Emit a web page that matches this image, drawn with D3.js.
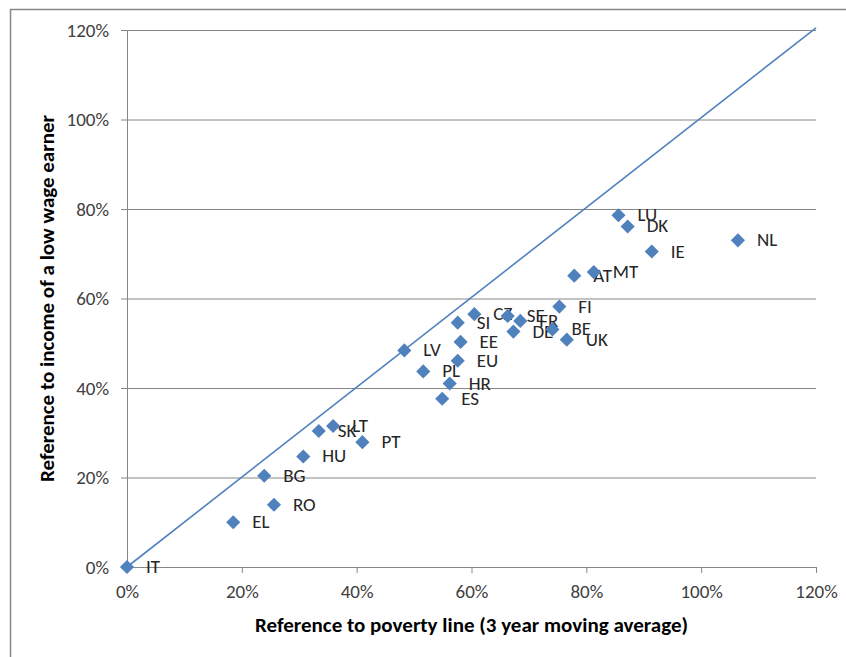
<!DOCTYPE html>
<html>
<head>
<meta charset="utf-8">
<script src="https://cdn.jsdelivr.net/npm/d3@7"></script>
<style>
  body { margin: 0; background: #fff; }
  text { font-family: Calibri, Carlito, 'Liberation Sans', Arial, sans-serif; }
  .axis path, .axis line { stroke: #868686; }
  .axis text { fill: #404040; font-size: 19px; }
  .grid line { stroke: #868686; }
  .grid path { display: none; }
</style>
</head>
<body>
<div id="chart-area"></div>
<script>
// country codes and values (share, 1 = 100%)
const codes = ['IT', 'EL', 'RO', 'BG', 'HU', 'SK', 'LT', 'PT', 'LV', 'PL', 'HR', 'ES', 'EU', 'EE', 'SI', 'CZ', 'SE', 'FR', 'DE', 'BE', 'UK', 'FI', 'AT', 'MT', 'LU', 'DK', 'IE', 'NL'];
const povertyLine = [0.0, 0.185, 0.256, 0.239, 0.307, 0.334, 0.359, 0.41, 0.483, 0.516, 0.562, 0.549, 0.576, 0.581, 0.576, 0.605, 0.663, 0.685, 0.673, 0.741, 0.766, 0.753, 0.779, 0.813, 0.856, 0.872, 0.914, 1.064];
const lowWage = [0.0, 0.1, 0.139, 0.204, 0.247, 0.304, 0.315, 0.279, 0.484, 0.437, 0.41, 0.376, 0.461, 0.503, 0.546, 0.565, 0.561, 0.55, 0.526, 0.531, 0.508, 0.582, 0.651, 0.659, 0.786, 0.761, 0.705, 0.73];
const equalityLine = [[0, 0], [1.2, 1.205]];
const tickValues = [0, 0.2, 0.4, 0.6, 0.8, 1.0, 1.2];

const margin = { left: 127, right: 30, top: 30, bottom: 90 };
const W = 846, H = 657;
const width = W - margin.left - margin.right;
const height = H - margin.top - margin.bottom;

const svg = d3.select('#chart-area')
  .append('svg')
  .attr('width', W)
  .attr('height', H);

// chart frame (only top and left edges show in the picture)
svg.append('path')
  .attr('d', `M10.5,${H} V9.5 H${W}`)
  .attr('fill', 'none')
  .attr('stroke', '#868686')
  .attr('stroke-width', 1.5);

const g = svg.append('g')
  .attr('transform', `translate(${margin.left}, ${margin.top})`);

const x = d3.scaleLinear().domain([0, 1.2]).range([0, width]);
const y = d3.scaleLinear().domain([0, 1.2]).range([height, 0]);
const pct = d3.format('.0%');

// horizontal gridlines
g.append('g')
  .attr('class', 'grid')
  .call(d3.axisLeft(y).tickValues(tickValues.slice(1)).tickSize(-width).tickFormat(''));

// axes
g.append('g')
  .attr('class', 'axis x-axis')
  .attr('transform', `translate(0, ${height})`)
  .call(d3.axisBottom(x).tickValues(tickValues).tickFormat(pct).tickSize(6).tickSizeOuter(0).tickPadding(12));

g.append('g')
  .attr('class', 'axis y-axis')
  .call(d3.axisLeft(y).tickValues(tickValues).tickFormat(pct).tickSize(6).tickSizeOuter(0).tickPadding(12));

// y = x reference line
const line = d3.line().x((d) => x(d[0])).y((d) => y(d[1]));
g.append('path')
  .attr('d', line(equalityLine))
  .attr('fill', 'none')
  .attr('stroke', '#4f81bd')
  .attr('stroke-width', 1.6);

// points
const points = codes.map((c, i) => ({ code: c, px: povertyLine[i], py: lowWage[i] }));
const diamond = d3.symbol().type(d3.symbolSquare).size(100);

const pt = g.selectAll('.pt')
  .data(points)
  .enter()
  .append('g')
  .attr('class', 'pt')
  .attr('transform', (d) => `translate(${x(d.px)}, ${y(d.py)})`);

pt.append('path')
  .attr('d', diamond)
  .attr('transform', 'rotate(45)')
  .attr('fill', '#4f81bd');

pt.append('text')
  .attr('x', 19)
  .attr('y', 6)
  .attr('fill', '#262626')
  .style('font-size', '19px')
  .text((d) => d.code);

// axis titles
svg.append('text')
  .attr('x', margin.left + width / 2)
  .attr('y', 632)
  .attr('text-anchor', 'middle')
  .attr('font-weight', 'bold')
  .attr('fill', '#000')
  .style('font-size', '21px')
  .text('Reference to poverty line (3 year moving average)');

svg.append('text')
  .attr('transform', `translate(54, ${margin.top + height / 2}) rotate(-90)`)
  .attr('text-anchor', 'middle')
  .attr('font-weight', 'bold')
  .attr('fill', '#000')
  .style('font-size', '21px')
  .text('Reference to income of a low wage earner');
</script>
</body>
</html>
